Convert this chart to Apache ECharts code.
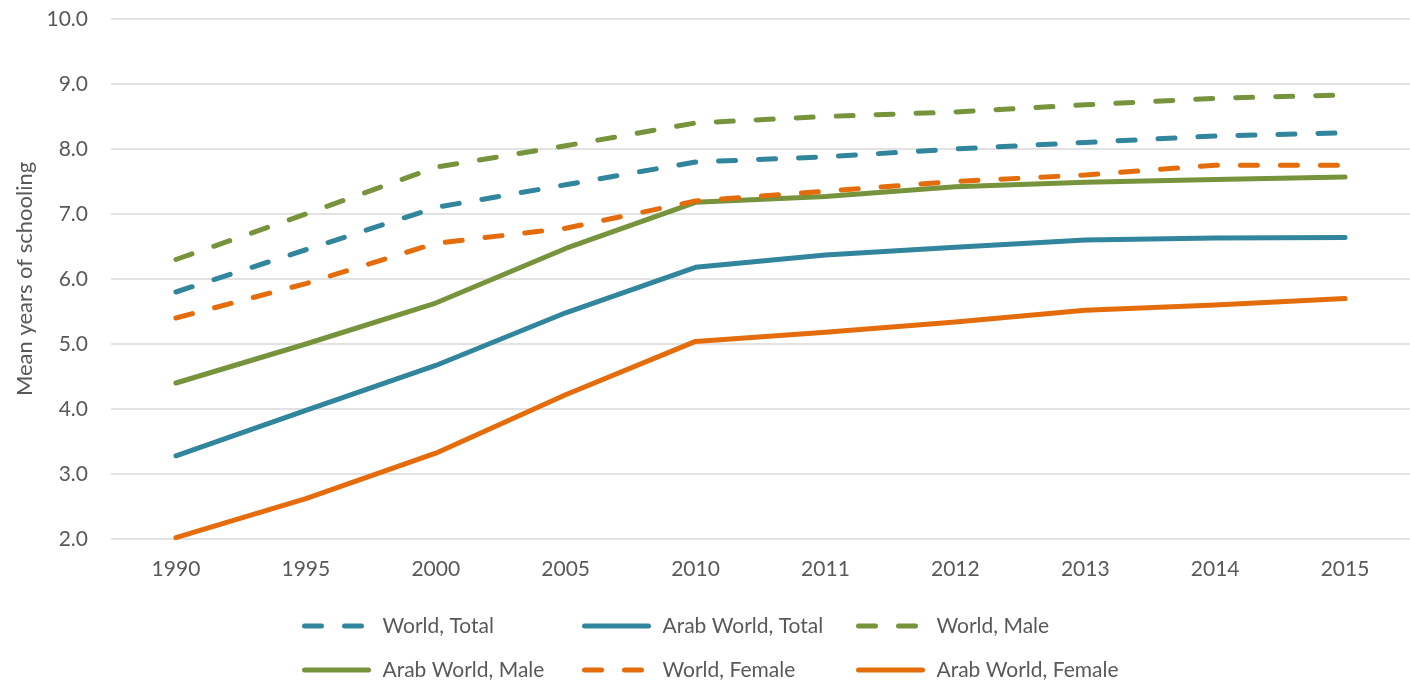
<!DOCTYPE html>
<html><head><meta charset="utf-8">
<script src="https://cdn.jsdelivr.net/npm/echarts@6/dist/echarts.min.js"></script>
<style>html,body{margin:0;padding:0;background:#fff}#c{width:1410px;height:680px}</style>
</head><body><div id="c"></div>
<script>
const years = ['1990','1995','2000','2005','2010','2011','2012','2013','2014','2015'];
const worldTotal = [5.80, 6.45, 7.10, 7.45, 7.80, 7.88, 8.00, 8.10, 8.20, 8.25];
const arabTotal = [3.28, 3.98, 4.67, 5.48, 6.18, 6.37, 6.49, 6.60, 6.63, 6.64];
const worldMale = [6.30, 7.00, 7.72, 8.05, 8.40, 8.50, 8.57, 8.68, 8.78, 8.83];
const arabMale = [4.40, 5.00, 5.63, 6.47, 7.18, 7.27, 7.42, 7.49, 7.53, 7.57];
const worldFemale = [5.40, 5.93, 6.55, 6.78, 7.20, 7.35, 7.50, 7.60, 7.75, 7.75];
const arabFemale = [2.02, 2.62, 3.32, 4.22, 5.04, 5.18, 5.34, 5.52, 5.60, 5.70];
const seriesNames = ['World, Total', 'Arab World, Total', 'World, Male', 'Arab World, Male', 'World, Female', 'Arab World, Female'];
const yTicks = {min: 2, max: 10, interval: 1};

const TEAL = '#31859C', GREEN = '#77933C', ORANGE = '#E46C0A';
const FONT = 'Lato';
const DASH = [17, 23];
function mk(name, data, color, dashed) {
  return {
    name, type: 'line', data, symbol: 'none', smooth: false,
    lineStyle: {color, width: 5, cap: 'round', join: 'round', type: dashed ? DASH : 'solid'},
    itemStyle: {color},
    emphasis: {disabled: true}
  };
}
// legend placement: 3 columns x 2 rows
const legPos = [[297, 609], [577, 609], [851, 609], [297, 653], [577, 653], [851, 653]];
const legends = seriesNames.map((n, i) => ({
  left: legPos[i][0], top: legPos[i][1],
  itemWidth: 64, itemHeight: 30,
  itemStyle: {opacity: 0},
  lineStyle: {width: 5, cap: 'round'},
  selectedMode: false,
  textStyle: {color: '#595959', fontSize: 21, fontFamily: FONT, padding: [0, 0, 0, 9]},
  data: [n]
}));
const chart = echarts.init(document.getElementById('c'));
chart.setOption({
  animation: false,
  textStyle: {fontFamily: FONT},
  grid: {left: 111, right: 0, top: 19, bottom: 141},
  xAxis: {
    type: 'category', data: years, boundaryGap: true,
    axisLine: {show: false}, axisTick: {show: false},
    axisLabel: {color: '#595959', fontSize: 21, fontFamily: FONT, margin: 20}
  },
  yAxis: {
    type: 'value', min: yTicks.min, max: yTicks.max, interval: yTicks.interval,
    name: 'Mean years of schooling', nameLocation: 'middle', nameGap: 74,
    nameTextStyle: {color: '#595959', fontSize: 22, fontFamily: FONT},
    axisLabel: {color: '#595959', fontSize: 21, fontFamily: FONT, margin: 23,
      formatter: v => v.toFixed(1)},
    axisLine: {show: false}, axisTick: {show: false},
    splitLine: {lineStyle: {color: '#D9D9D9', width: 1.5}}
  },
  legend: legends,
  series: [
    mk(seriesNames[0], worldTotal, TEAL, true),
    mk(seriesNames[1], arabTotal, TEAL, false),
    mk(seriesNames[2], worldMale, GREEN, true),
    mk(seriesNames[3], arabMale, GREEN, false),
    mk(seriesNames[4], worldFemale, ORANGE, true),
    mk(seriesNames[5], arabFemale, ORANGE, false)
  ]
});
</script></body></html>
